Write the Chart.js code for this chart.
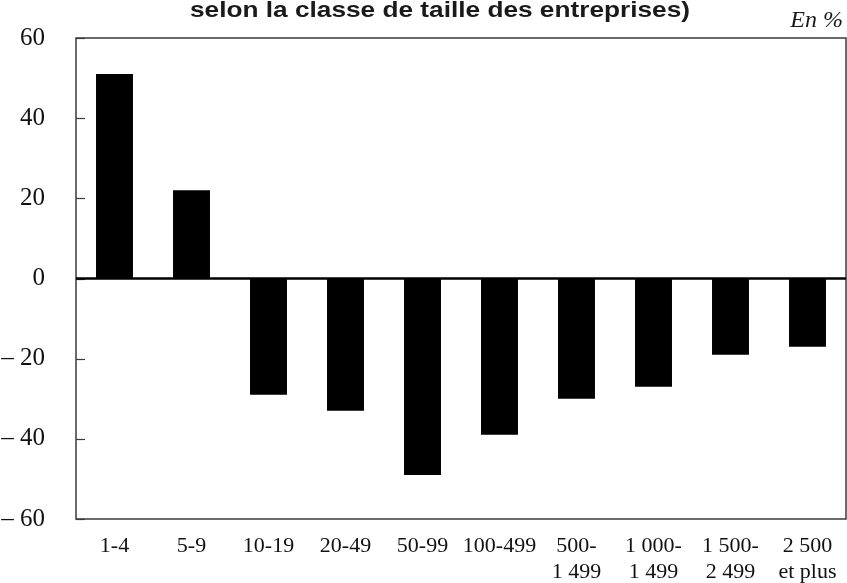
<!DOCTYPE html>
<html>
<head>
<meta charset="utf-8">
<script src="https://cdn.jsdelivr.net/npm/chart.js@4/dist/chart.umd.min.js"></script>
<style>
    html, body { margin: 0; padding: 0; background: #fff; }
    #chart { display: block; }
</style>
</head>
<body>
<canvas id="chart" width="847" height="583"></canvas>
<script>
// classes de taille
const categories = ["1-4", "5-9", "10-19", "20-49", "50-99", "100-499",
    ["500-", "1 499"], ["1 000-", "1 499"], ["1 500-", "2 499"], ["2 500", "et plus"]];
// variation en %
const values = [51, 22, -29, -33, -49, -39, -30, -27, -19, -17];
const yTicks = [60, 40, 20, 0, -20, -40, -60];
const yTickLabels = ["60", "40", "20", "0", "\u2013 20", "\u2013 40", "\u2013 60"];

const titleText = "selon la classe de taille des entreprises)";
const unitText = "En %";

// cadre, petits tirets de l'axe Y, ligne du zéro, titre
const framePlugin = {
    id: 'frame',
    afterDatasetsDraw(chart) {
        const ctx = chart.ctx;
        const a = chart.chartArea;
        const y = chart.scales.y;
        ctx.save();
        ctx.strokeStyle = "#3a3a3a";
        ctx.lineWidth = 1.5;
        ctx.strokeRect(a.left, a.top, a.right - a.left, a.bottom - a.top);
        ctx.lineWidth = 1.2;
        yTicks.forEach(function (v) {
            const py = Math.round(y.getPixelForValue(v)) + 0.5;
            ctx.beginPath();
            ctx.moveTo(a.left, py);
            ctx.lineTo(a.left + 9, py);
            ctx.stroke();
        });
        const zy = y.getPixelForValue(0);
        ctx.strokeStyle = "#000";
        ctx.lineWidth = 2.5;
        ctx.beginPath();
        ctx.moveTo(a.left, zy);
        ctx.lineTo(a.right, zy);
        ctx.stroke();

        // titre (coupé en haut dans l'original), étiré à la largeur voulue
        ctx.fillStyle = "#1a1a1a";
        ctx.font = "bold 22px 'Liberation Sans', Arial, sans-serif";
        ctx.textAlign = "center";
        ctx.textBaseline = "alphabetic";
        const w = ctx.measureText(titleText).width;
        const sx = 500 / w;
        ctx.save();
        ctx.translate(440, 17);
        ctx.scale(sx, 1);
        ctx.fillText(titleText, 0, 0);
        ctx.restore();

        ctx.font = "italic 24px 'Liberation Serif', 'Times New Roman', serif";
        ctx.textAlign = "right";
        ctx.fillText(unitText, 843, 27);
        ctx.restore();
    }
};

const ctx = document.getElementById('chart');
const chart = new Chart(ctx, {
    type: 'bar',
    data: {
        labels: categories,
        datasets: [{
            data: values,
            backgroundColor: "#000",
            borderWidth: 0,
            barPercentage: 0.48,
            categoryPercentage: 1
        }]
    },
    options: {
        responsive: false,
        animation: false,
        layout: { padding: { top: 38, right: 1, left: 0, bottom: 0 } },
        plugins: {
            legend: { display: false },
            tooltip: { enabled: false }
        },
        scales: {
            x: {
                grid: { display: false },
                border: { display: false },
                ticks: {
                    color: "#111",
                    padding: 6,
                    maxRotation: 0,
                    autoSkip: false,
                    font: { family: "'Liberation Serif', 'Times New Roman', serif", size: 22, lineHeight: "26px" }
                },
                afterFit(scale) { scale.height = 64; }
            },
            y: {
                min: -60,
                max: 60,
                afterBuildTicks(scale) {
                    scale.ticks = yTicks.map(function (v) { return { value: v }; });
                },
                grid: { display: false },
                border: { display: false },
                ticks: {
                    color: "#111",
                    padding: 23,
                    font: { family: "'Liberation Serif', 'Times New Roman', serif", size: 25 },
                    callback: function (v) {
                        const i = yTicks.indexOf(v);
                        return i >= 0 ? yTickLabels[i] : "";
                    }
                },
                afterFit(scale) { scale.width = 76; }
            }
        }
    },
    plugins: [framePlugin]
});
</script>
</body>
</html>
